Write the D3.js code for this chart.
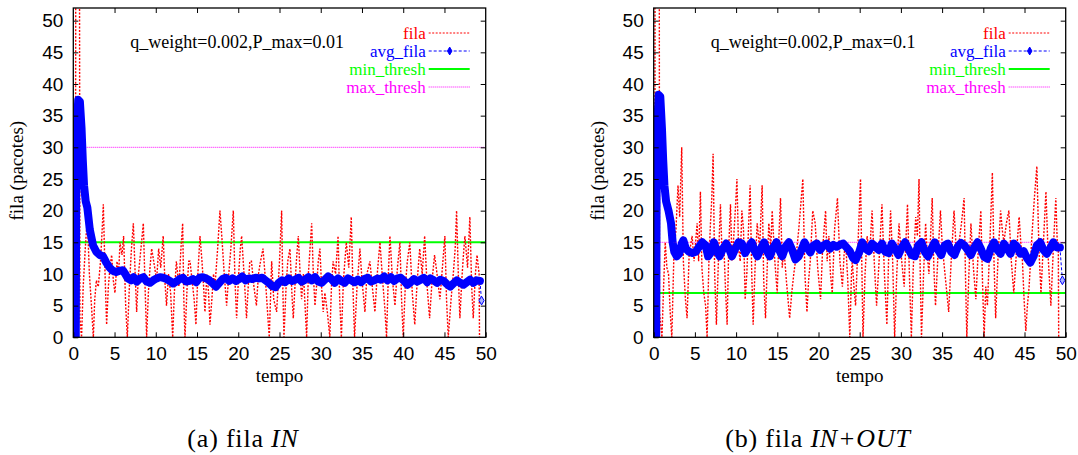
<!DOCTYPE html>
<meta charset="utf-8">
<style>
body { margin: 0; background: #fff; }
svg { font-family: "Liberation Serif", serif; }
.axis text { font-size: 19px; fill: #000; }
.legend text { font-size: 17px; }
</style>
<body>
<script src="https://d3js.org/d3.v7.min.js"></script>
<script>

// ---- data ----
var yTicks = [0, 5, 10, 15, 20, 25, 30, 35, 40, 45, 50];
var xTicks = [0, 5, 10, 15, 20, 25, 30, 35, 40, 45, 50];
var legendNames = ["fila", "avg_fila", "min_thresh", "max_thresh"];
var legendColors = ["#ff0000", "#0000ff", "#00ff00", "#ff00ff"];

// panel (a)
var titleA = "q_weight=0.002,P_max=0.01";
var minThreshA = 15, maxThreshA = 30;
var filaA = [[0,0],[0.25,0],[0.3,60],[0.75,60],[0.8,3],[1.0,0],[1.2,8],[1.45,14],[1.7,19],[1.95,10],[2.2,5],[2.43,0],
  [2.6,6],[2.8,9],[3.03,8],[3.3,12],[3.5,17],[3.64,21],[3.85,10],[4.04,2],[4.25,8],[4.45,11],[4.65,13],[4.85,9],
  [5.05,7],[5.3,12],[5.5,10],[5.66,15],[5.9,13],[6.1,16],[6.35,5],[6.55,0],[6.8,8],[7.05,14],[7.28,18],[7.5,10],
  [7.68,4],[7.9,10],[8.2,14],[8.49,18],[8.7,8],[8.89,0],[9.1,7],[9.3,11],[9.5,14],[9.75,12],[10.1,9],[10.35,14],
  [10.6,11],[10.9,16],[11.1,9],[11.3,5],[11.55,10],[11.8,7],[12.05,0],[12.25,7],[12.5,12],[12.8,8],[13.05,14],
  [13.26,18],[13.4,6],[13.54,0],[13.8,8],[14.0,12],[14.15,12],[14.4,9],[14.65,6],[14.87,2],[15.1,10],[15.36,16],
  [15.6,12],[15.8,8],[15.96,4],[16.2,10],[16.4,7],[16.57,2],[16.8,6],[17.0,10],[17.17,8],[17.5,14],[17.78,20],
  [18.0,16],[18.3,10],[18.59,5],[18.85,10],[19.1,14],[19.4,20],[19.6,9],[19.8,3],[20.05,10],[20.25,14],[20.41,16],
  [20.7,10],[21.0,3],[21.25,9],[21.4,12],[21.6,12],[21.9,8],[22.2,5],[22.45,10],[22.7,12],[23.0,14],[23.3,9],
  [23.55,4],[23.76,0],[24.05,12],[24.3,6],[24.65,4],[25.0,12],[25.26,20],[25.4,8],[25.54,0],[25.8,8],[26.0,12],
  [26.27,14],[26.5,7],[26.67,3],[26.95,10],[27.1,13],[27.28,16],[27.5,10],[27.68,6],[27.9,10],[28.1,5],[28.29,0],
  [28.5,10],[28.7,14],[28.9,18],[29.1,10],[29.3,5],[29.55,9],[29.7,12],[29.9,14],[30.1,8],[30.3,4],[30.5,7],
  [30.8,4],[31.1,0],[31.3,8],[31.5,12],[31.8,10],[32.1,16],[32.3,6],[32.5,0],[32.75,9],[33.1,15],[33.4,11],
  [33.7,19],[33.9,8],[34.1,0],[34.4,8],[34.75,14],[35.0,9],[35.36,4],[35.6,10],[35.96,12],[36.25,8],[36.57,4],
  [36.85,10],[37.18,15],[37.5,9],[37.75,5],[37.98,0],[38.2,10],[38.39,16],[38.7,9],[39.0,5],[39.3,11],[39.6,15],
  [39.8,6],[40.0,0],[40.25,8],[40.5,12],[40.8,15],[41.1,7],[41.4,2],[41.7,9],[42.0,14],[42.3,10],[42.6,16],
  [42.9,8],[43.2,3],[43.5,9],[43.8,13],[44.1,10],[44.45,6],[44.75,11],[45.05,16],[45.25,6],[45.46,0],[45.8,6],
  [46.07,10],[46.3,14],[46.47,20],[46.7,9],[46.87,3],[47.1,9],[47.3,13],[47.48,16],[47.8,11],[48.08,19],[48.3,8],
  [48.49,3],[48.75,10],[48.95,13],[49.2,10],[49.25,0]];
var avgA = [[0,0],[0.3,0],[0.35,22],[0.45,34],[0.6,37.5],[0.8,37.2],[1.0,33],[1.15,28],[1.3,24],[1.5,21.5],[1.7,20.5],
  [2.0,17],[2.4,14.5],[2.8,13.5],[3.2,13],[3.6,12.8],[4.0,11.8],[4.4,11],[4.8,10.5],[5.2,10.3],[5.6,10.5],[6.0,10.6],
  [6.3,10.0],[6.6,9.3],[7.0,9.0],[7.3,9.5],[7.7,8.8],[8.1,9.3],[8.5,9.5],[8.9,8.8],[9.3,8.6],[9.7,9.0],[10.1,9.3],
  [10.5,9.5],[10.9,9.4],[11.3,9.2],[11.7,8.9],[12.1,8.5],[12.5,8.8],[12.9,9.2],[13.3,9.4],[13.7,8.8],[14.1,8.9],
  [14.5,9.2],[14.9,8.7],[15.3,9.4],[15.7,9.5],[16.1,9.3],[16.5,9.0],[16.9,8.5],[17.3,8.0],[17.7,8.6],[18.1,9.2],
  [18.5,9.4],[18.9,8.9],[19.3,9.3],[19.7,8.9],[20.1,9.2],[20.5,9.6],[20.9,9.0],[21.3,9.3],[21.7,9.2],[22.1,9.4],
  [22.5,9.3],[22.9,9.4],[23.3,9.0],[23.7,8.6],[24.1,8.1],[24.5,7.9],[24.9,8.6],[25.3,9.0],[25.7,8.7],[26.1,9.3],
  [26.5,8.9],[26.9,9.1],[27.3,9.4],[27.7,8.8],[28.1,9.1],[28.5,9.5],[28.9,9.0],[29.3,9.5],[29.7,8.8],[30.1,8.6],
  [30.5,9.1],[30.9,9.6],[31.3,9.2],[31.7,8.6],[32.1,9.3],[32.5,8.9],[32.9,8.6],[33.3,9.3],[33.7,9.0],[34.1,8.7],
  [34.5,9.1],[34.9,8.7],[35.3,9.2],[35.7,9.4],[36.1,8.8],[36.5,9.0],[36.9,9.3],[37.3,9.1],[37.7,9.6],[38.1,9.0],
  [38.5,9.5],[38.9,8.9],[39.3,9.3],[39.7,9.4],[40.1,8.9],[40.5,8.3],[40.9,8.7],[41.3,9.2],[41.7,8.8],[42.1,9.1],
  [42.5,9.4],[42.9,8.7],[43.3,9.3],[43.7,9.0],[44.1,8.6],[44.5,9.1],[44.9,8.9],[45.3,8.4],[45.7,8.0],[46.1,8.5],
  [46.5,9.0],[46.9,8.6],[47.3,8.3],[47.7,8.7],[48.1,9.1],[48.5,8.6],[48.9,9.0],[49.3,8.9],[49.5,5.8]];

// panel (b)
var titleB = "q_weight=0.002,P_max=0.1";
var minThreshB = 7, maxThreshB = 15;
var filaB = [[0,0],[0.15,0],[0.16,60],[0.68,60],[0.7,4],[1.0,0],[1.2,8],[1.4,15],[1.6,11],[1.8,10],[2.0,4],[2.2,0],
  [2.45,13],[2.7,17],[2.95,24],[3.15,19],[3.4,30],[3.6,12],[3.85,6],[4.05,3],[4.3,13],[4.66,16],[4.9,12],[5.27,18],
  [5.45,12],[5.67,23],[5.85,11],[6.08,7],[6.3,5],[6.48,0],[6.7,12],[6.89,18],[7.05,22],[7.21,29],[7.4,10],[7.61,2],
  [7.85,12],[8.1,21],[8.3,13],[8.5,15],[8.7,8],[8.91,2],[9.1,14],[9.32,21],[9.5,12],[9.72,16],[9.9,20],[10.1,25],
  [10.3,14],[10.5,12],[10.7,20],[10.9,17],[11.1,6],[11.3,10],[11.5,17],[11.7,24],[11.9,10],[12.07,2],[12.3,11],
  [12.56,18],[12.85,14],[13.16,24],[13.35,9],[13.57,3],[13.8,12],[13.97,18],[14.2,14],[14.38,20],[14.7,12],
  [14.99,7],[15.2,16],[15.39,22],[15.6,11],[15.8,14],[16.1,9],[16.5,3],[16.75,7],[17.0,10],[17.3,13],[17.6,17],
  [17.85,21],[18.1,25],[18.35,10],[18.6,4],[18.8,9],[19.0,12],[19.3,20],[19.6,18],[19.9,11],[20.25,6],[20.5,14],
  [20.86,20],[21.05,12],[21.26,16],[21.45,10],[21.67,7],[21.95,17],[22.3,22],[22.6,12],[22.9,8],[23.1,13],
  [23.3,15],[23.55,9],[23.8,0],[24.0,10],[24.1,12],[24.3,8],[24.5,5],[24.8,15],[25.1,25],[25.25,12],[25.4,0],
  [25.65,10],[25.9,16],[26.2,13],[26.5,20],[26.8,11],[27.05,5],[27.35,12],[27.7,21],[28.0,10],[28.3,2],[28.5,12],
  [28.75,20],[29.0,12],[29.24,0],[29.5,10],[29.77,18],[30.1,12],[30.4,8],[30.6,15],[30.8,21],[31.05,9],[31.27,0],
  [31.5,11],[31.8,19],[32.0,16],[32.2,25],[32.35,10],[32.5,0],[32.75,10],[33.0,18],[33.2,13],[33.4,10],[33.6,16],
  [33.8,22],[34.0,11],[34.2,5],[34.5,13],[34.8,20],[35.0,15],[35.2,12],[35.5,8],[35.8,4],[36.1,12],[36.45,20],
  [36.75,13],[37.06,15],[37.35,18],[37.67,22],[37.85,9],[38.0,0],[38.25,10],[38.5,18],[38.8,11],[39.1,6],
  [39.4,14],[39.7,20],[39.9,9],[40.1,0],[40.3,8],[40.5,5],[40.8,15],[41.1,26],[41.3,12],[41.5,3],[41.8,13],
  [42.1,20],[42.3,17],[42.5,15],[42.8,18],[43.1,20],[43.4,12],[43.7,7],[44.0,13],[44.35,19],[44.55,15],[44.75,12],
  [44.95,6],[45.16,1],[45.35,5],[45.56,8],[45.9,16],[46.2,22],[46.5,27],[46.75,14],[47.0,7],[47.3,15],[47.6,23],
  [47.9,12],[48.2,5],[48.5,14],[48.8,22],[49.0,14],[49.1,15],[49.15,0]];
var avgB = [[0,0],[0.3,0],[0.35,22],[0.45,34],[0.6,38.3],[0.8,38],[1.0,33],[1.15,28],[1.3,24],[1.5,21.5],[1.8,20],
  [2.1,18],[2.3,15],[2.5,13.5],[2.8,12.8],[3.1,13.2],[3.4,14.8],[3.6,15.3],[3.9,14.0],[4.3,13.5],[4.7,13.3],[5.1,13.5],
  [5.5,14.3],[5.9,15.0],[6.3,14.5],[6.6,12.8],[7.0,13.5],[7.3,15.0],[7.7,13.5],[8.0,12.8],[8.4,14.0],[8.8,14.8],
  [9.2,13.8],[9.5,12.8],[9.9,14.0],[10.3,15.0],[10.7,14.8],[11.1,13.3],[11.5,14.2],[11.9,15.0],[12.3,13.5],
  [12.6,12.8],[13.0,14.0],[13.4,15.0],[13.8,13.5],[14.1,12.8],[14.5,14.2],[14.9,15.0],[15.3,13.6],[15.6,12.8],
  [16.0,14.3],[16.4,15.0],[16.8,13.8],[17.2,12.3],[17.6,12.8],[18.0,14.0],[18.3,15.0],[18.7,14.0],[19.0,13.4],
  [19.4,14.5],[19.8,14.8],[20.2,13.8],[20.6,14.5],[21.0,14.8],[21.4,14.0],[21.8,14.6],[22.2,14.3],[22.6,14.6],
  [23.0,14.8],[23.4,14.2],[23.8,13.6],[24.2,12.5],[24.5,12.2],[24.9,13.3],[25.3,15.0],[25.7,14.0],[26.1,13.6],
  [26.5,14.8],[26.9,14.3],[27.3,13.8],[27.7,14.8],[28.1,13.5],[28.5,13.3],[28.9,14.8],[29.3,14.0],[29.7,13.0],
  [30.1,14.2],[30.5,15.0],[30.9,14.0],[31.3,13.0],[31.7,12.8],[32.1,14.5],[32.5,15.0],[32.9,13.5],[33.3,12.8],
  [33.7,14.0],[34.1,15.0],[34.5,13.8],[34.9,13.0],[35.3,14.5],[35.7,14.8],[36.1,13.5],[36.5,13.0],[36.9,14.3],
  [37.3,14.9],[37.7,14.5],[38.1,13.8],[38.5,13.0],[38.9,14.2],[39.3,15.0],[39.7,14.0],[40.1,12.7],[40.5,12.4],
  [40.9,14.0],[41.3,15.0],[41.7,13.8],[42.1,13.2],[42.5,14.8],[42.9,14.0],[43.3,13.2],[43.7,14.8],[44.1,14.3],
  [44.5,13.2],[44.9,13.6],[45.3,12.5],[45.7,11.8],[46.1,12.8],[46.5,14.5],[46.9,15.0],[47.3,13.8],[47.7,13.2],
  [48.1,14.0],[48.5,15.0],[48.9,14.2],[49.3,14.2],[49.6,9.0]];

var W = 1078, H = 455;

var svg = d3.select("body").append("svg")
    .attr("width", W)
    .attr("height", H);

function panel(id, left, right, top, bottom, title, fila, avg, minT, maxT) {
  var x = d3.scaleLinear().domain([0, 50]).range([left, right]);
  var y = d3.scaleLinear().domain([0, 52]).range([bottom, top]);

  var g = svg.append("g");

  g.append("clipPath").attr("id", id)
    .append("rect")
      .attr("x", left).attr("y", top)
      .attr("width", right - left).attr("height", bottom - top);

  var plot = g.append("g").attr("clip-path", "url(#" + id + ")");

  var line = d3.line()
      .x(function(d) { return x(d[0]); })
      .y(function(d) { return y(d[1]); });

  // thresholds
  plot.append("line")
      .attr("x1", x(0)).attr("x2", x(50))
      .attr("y1", y(maxT)).attr("y2", y(maxT))
      .attr("stroke", "#ff00ff").attr("stroke-width", 1)
      .attr("stroke-dasharray", "1,1");
  plot.append("line")
      .attr("x1", x(0)).attr("x2", x(50))
      .attr("y1", y(minT)).attr("y2", y(minT))
      .attr("stroke", "#00ff00").attr("stroke-width", 2);

  // instantaneous queue
  plot.append("path")
      .datum(fila)
      .attr("d", line)
      .attr("fill", "none")
      .attr("stroke", "#ff0000")
      .attr("stroke-width", 1.4)
      .attr("stroke-dasharray", "2,1.5");

  // average queue: dense points -> thick band, last step thin
  var body = avg.slice(0, avg.length - 1);
  var tail = avg.slice(avg.length - 2);
  plot.append("path")
      .datum(body)
      .attr("d", line)
      .attr("fill", "none")
      .attr("stroke", "#0000ff")
      .attr("stroke-width", 8)
      .attr("stroke-linejoin", "round")
      .attr("stroke-linecap", "round");
  plot.append("path")
      .datum(tail)
      .attr("d", line)
      .attr("fill", "none")
      .attr("stroke", "#0000ff")
      .attr("stroke-width", 1)
      .attr("stroke-dasharray", "3,2");
  var diamond = d3.symbol().type(d3.symbolDiamond).size(22);
  plot.append("path")
      .attr("d", diamond)
      .attr("transform", "translate(" + x(tail[1][0]) + "," + y(tail[1][1]) + ")")
      .attr("fill", "#aab4ff")
      .attr("stroke", "#0000ff");

  // frame + axes with inward ticks (all four sides)
  g.append("g").attr("class", "axis")
      .attr("transform", "translate(0," + bottom + ")")
      .call(d3.axisBottom(x).tickValues(xTicks).tickSizeInner(-5).tickSizeOuter(0).tickPadding(9))
      .call(function(s) { s.select(".domain").remove(); });
  g.append("g").attr("class", "axis")
      .attr("transform", "translate(0," + top + ")")
      .call(d3.axisTop(x).tickValues(xTicks.slice(1, -1)).tickSizeInner(-5).tickSizeOuter(0).tickFormat(""))
      .call(function(s) { s.select(".domain").remove(); });
  g.append("g").attr("class", "axis")
      .attr("transform", "translate(" + left + ",0)")
      .call(d3.axisLeft(y).tickValues(yTicks).tickSizeInner(-5).tickSizeOuter(0).tickPadding(10))
      .call(function(s) { s.select(".domain").remove(); });
  g.append("g").attr("class", "axis")
      .attr("transform", "translate(" + right + ",0)")
      .call(d3.axisRight(y).tickValues(yTicks.slice(1)).tickSizeInner(-5).tickSizeOuter(0).tickFormat(""))
      .call(function(s) { s.select(".domain").remove(); });

  g.selectAll(".axis .tick line").attr("stroke", "#000");

  g.append("rect")
      .attr("x", left).attr("y", top)
      .attr("width", right - left).attr("height", bottom - top)
      .attr("fill", "none")
      .attr("stroke", "#000")
      .attr("stroke-width", 1.3);

  // axis titles
  g.append("text")
      .attr("x", (left + right) / 2).attr("y", bottom + 45)
      .attr("text-anchor", "middle")
      .style("font-size", "19px")
      .text("tempo");
  g.append("text")
      .attr("text-anchor", "middle")
      .attr("transform", "translate(" + (left - 50) + "," + ((top + bottom) / 2 - 2) + ")rotate(-90)")
      .style("font-size", "19px")
      .text("fila (pacotes)");

  // title inside the plot
  g.append("text")
      .attr("x", left + 57).attr("y", 48)
      .style("font-size", "18px")
      .text(title);

  // legend
  var leg = g.selectAll(".legend")
      .data(legendNames)
    .enter().append("g")
      .attr("class", "legend")
      .attr("transform", function(d, i) { return "translate(0," + (33 + i * 18) + ")"; });

  leg.append("text")
      .attr("x", right - 60)
      .attr("dy", "0.33em")
      .attr("text-anchor", "end")
      .attr("fill", function(d, i) { return legendColors[i]; })
      .text(function(d) { return d; });

  leg.append("line")
      .attr("x1", right - 57).attr("x2", right - 16)
      .attr("stroke", function(d, i) { return legendColors[i]; })
      .attr("stroke-width", function(d, i) { return i === 2 ? 2 : 1; })
      .attr("stroke-dasharray", function(d, i) { return i === 0 ? "2,1.5" : i === 1 ? "3,2" : i === 3 ? "1,1" : null; });

  leg.filter(function(d, i) { return i === 1; })
    .append("path")
      .attr("d", d3.symbol().type(d3.symbolDiamond).size(18))
      .attr("transform", "translate(" + (right - 36) + ",0)")
      .attr("fill", "#0000ff")
      .attr("stroke", "#0000ff");
}

panel("clipA", 73.3, 485.7, 8, 337.3, titleA, filaA, avgA, minThreshA, maxThreshA);
panel("clipB", 653.7, 1065.7, 8, 337.3, titleB, filaB, avgB, minThreshB, maxThreshB);

// sub-figure captions
var capA = svg.append("text").attr("x", 243).attr("y", 447)
    .attr("text-anchor", "middle").style("font-size", "26px").style("letter-spacing", "0.8px");
capA.append("tspan").text("(a) fila ");
capA.append("tspan").style("font-style", "italic").text("IN");

var capB = svg.append("text").attr("x", 818).attr("y", 447)
    .attr("text-anchor", "middle").style("font-size", "26px").style("letter-spacing", "0.8px");
capB.append("tspan").text("(b) fila ");
capB.append("tspan").style("font-style", "italic").text("IN+OUT");

</script>
